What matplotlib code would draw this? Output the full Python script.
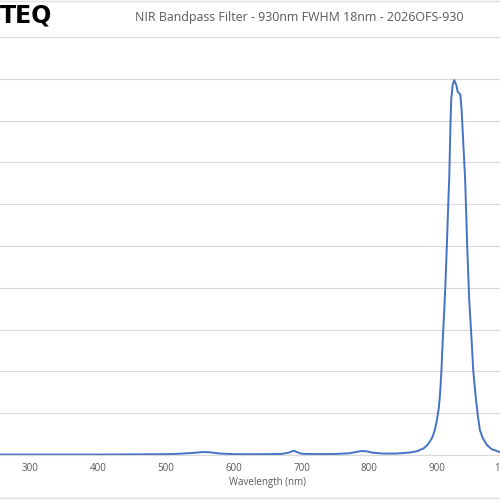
# Крива пропускання NIR фільтра 930nm
import matplotlib
matplotlib.use('Agg')
import matplotlib.pyplot as plt
from matplotlib.lines import Line2D

title = 'NIR Bandpass Filter - 930nm FWHM 18nm - 2026OFS-930'
x_label = 'Wavelength (nm)'
logo = 'TEQ'

# Дані
wavelength = [250, 300, 350, 400, 450, 500, 520, 540, 555, 565, 580, 600, 620, 650, 670, 680, 686, 689, 693, 700,
	720, 750, 770, 780, 788, 795, 805, 820, 840, 860, 870, 880, 886, 892, 896, 899, 902, 904, 906, 908,
	910, 912, 914, 916, 917.5, 918.5, 919.5, 920.5, 922.5, 925, 926.5, 928, 930, 932.5, 934, 935.8, 938, 941,
	944, 947, 950.5, 953, 957, 960, 962.7, 967, 973, 980, 992, 1000]
transmission = [0.1, 0.1, 0.1, 0.1, 0.15, 0.2, 0.3, 0.5, 0.7, 0.65, 0.35, 0.2, 0.2, 0.2, 0.25, 0.5, 0.9, 1.0, 0.7, 0.3,
	0.2, 0.25, 0.4, 0.7, 0.95, 0.9, 0.55, 0.35, 0.35, 0.6, 0.9, 1.6, 2.5, 4.0, 5.8, 8.0, 11.0, 14.5, 20, 27.5,
	34, 41, 50, 59.5, 66, 73, 80, 85, 88.5, 89.7, 89, 88.5, 86.9, 86.5, 86.1, 82.5, 75.4, 65.8,
	50, 37, 27.5, 20, 13.2, 9, 6, 4, 2.4, 1.4, 0.7, 0.5]
x_ticks = [300, 400, 500, 600, 700, 800, 900, 1000]
y_ticks = [0, 10, 20, 30, 40, 50, 60, 70, 80, 90, 100]

grey = '#595959'
fig = plt.figure(figsize=(5, 5), dpi=100)
# осі ширші за картинку - як обрізаний скріншот
ax = fig.add_axes([-0.0758, 0.09, 1.222, 0.836])
ax.plot(wavelength, transmission, color='#4472C4', lw=1.4)
ax.set_xlim(200, 1100)
ax.set_ylim(0, 100)
ax.set_xticks(x_ticks)
ax.set_yticks(y_ticks)
ax.set_yticklabels([])
ax.grid(True, axis='y', color='#D9D9D9', lw=0.8)
ax.set_axisbelow(True)
for s in ['left', 'right', 'top']:
	ax.spines[s].set_visible(False)
ax.spines['bottom'].set_color('#D9D9D9')
ax.tick_params(length=0, pad=6, labelsize=7, labelcolor=grey)
for lab in ax.get_xticklabels():
	lab.set_fontfamily('Open Sans')
ax.set_xlabel(x_label, fontsize=7, color=grey, family='Open Sans', labelpad=2)

fig.text(0.598, 0.965, title, ha='center', va='center', fontsize=8.9, color=grey, family='Open Sans')
fig.text(0.0, 0.968, logo, ha='left', va='center', fontsize=17, fontweight='bold', color='black')

# рамка скріншота
fig.add_artist(Line2D([0, 1], [0.998, 0.998], color='#E0E0E0', lw=1))
fig.add_artist(Line2D([0, 1], [0.004, 0.004], color='#E0E0E0', lw=1))

fig.savefig('out.png', dpi=100)
